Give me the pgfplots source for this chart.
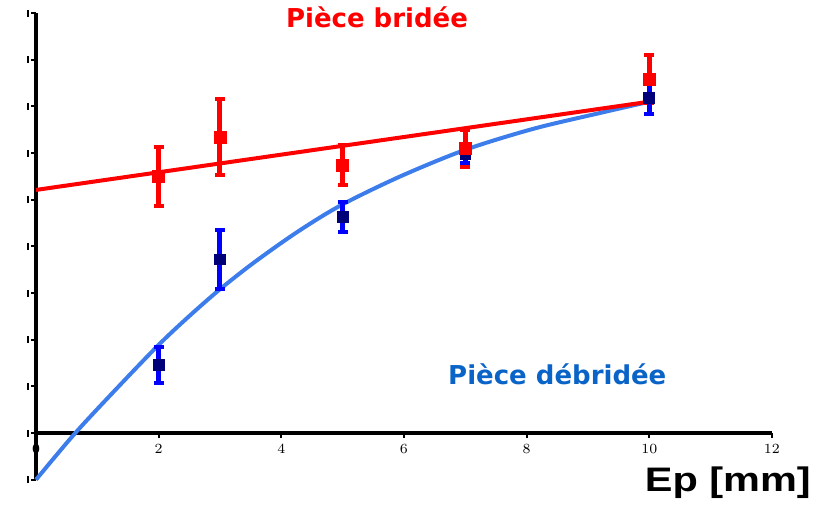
\documentclass[border=0pt]{standalone}
\usepackage{pgfplots}
\pgfplotsset{compat=1.18}
\usepackage{fontspec}
\setmainfont{DejaVu Sans}
\newfontfamily\arialfont{Liberation Sans}
\definecolor{myred}{RGB}{255,0,0}
\definecolor{curveblue}{RGB}{60,125,235}
\definecolor{textblue}{RGB}{10,100,200}
\definecolor{navy}{RGB}{0,0,120}
\definecolor{barblue}{RGB}{0,0,255}
\begin{document}
\begin{tikzpicture}
\begin{axis}[
  x=30.667pt, y=23.333pt,
  xmin=0, xmax=12, ymin=-1, ymax=9,
  enlargelimits=false,
  axis x line=middle, axis y line=left,
  axis line style={line width=2pt, -, black},
  hide obscured x ticks=false,
  xtick={0,2,...,12}, ytick={-1,0,...,9},
  tick align=outside,
  major tick length=2.5pt,
  every tick/.style={black, line width=1pt},
  xticklabel style={font=\arialfont\bfseries\fontsize{7}{8}\selectfont, inner sep=1pt, yshift=-2pt},
  yticklabel={\rule{1pt}{3.5pt}},
  yticklabel style={inner sep=1pt},
  clip=false,
]
\path (axis cs:-0.587,-1.607) rectangle (axis cs:12.80,9.28);
% fitted curves
\addplot[curveblue, line width=2pt, smooth, no marks] coordinates {
 (0,-1) (0.64,0) (1.37,1.03) (2.0,1.89) (2.46,2.46) (2.98,3.06) (3.54,3.64)
 (4.25,4.30) (4.97,4.88) (5.94,5.50) (7.0,6.07) (8.11,6.52) (9.2,6.86) (10,7.10)};
\addplot[myred, line width=2pt, no marks] coordinates {(0,5.21) (10.05,7.11)};
% red points with error bars
\addplot[only marks, mark=square*, mark size=3pt, color=myred,
  error bars/.cd, y dir=both, y explicit,
  error bar style={myred, line width=2.5pt},
  error mark options={rotate=90, myred, mark size=2.5pt, line width=2pt}]
  coordinates {(2,5.49) +- (0,0.63) (3,6.34) +- (0,0.81) (5,5.74) +- (0,0.43)
               (7,6.10) +- (0,0.40) (10,7.585) +- (0,0.515)};
% blue points with error bars
\addplot[only marks, mark=square*, mark size=2.7pt, color=navy,
  error bars/.cd, y dir=both, y explicit,
  error bar style={barblue, line width=2.5pt},
  error mark options={rotate=90, barblue, mark size=2.5pt, line width=2pt}]
  coordinates {(2,1.46) +- (0,0.39) (3,3.72) +- (0,0.63) (5,4.63) +- (0,0.33)
               (7,5.98) +- (0,0.20) (10,7.18) +- (0,0.34)};
% red markers on top
\addplot[only marks, mark=square*, mark size=3pt, color=myred]
  coordinates {(2,5.49) (3,6.34) (5,5.74) (7,6.10) (10,7.585)};
\node[anchor=base, text=myred, font=\bfseries\fontsize{13}{15}\selectfont] at (axis cs:5.56,8.69) {Pièce bridée};
\node[anchor=base, text=textblue, font=\bfseries\fontsize{13}{15}\selectfont] at (axis cs:8.50,1.04) {Pièce débridée};
\node[anchor=base, inner sep=0pt, font=\arialfont\bfseries\fontsize{17}{19}\selectfont] at (axis cs:11.28,-1.258) {\scalebox{1.22}[1]{Ep [mm]}};
\end{axis}
\end{tikzpicture}
\end{document}
